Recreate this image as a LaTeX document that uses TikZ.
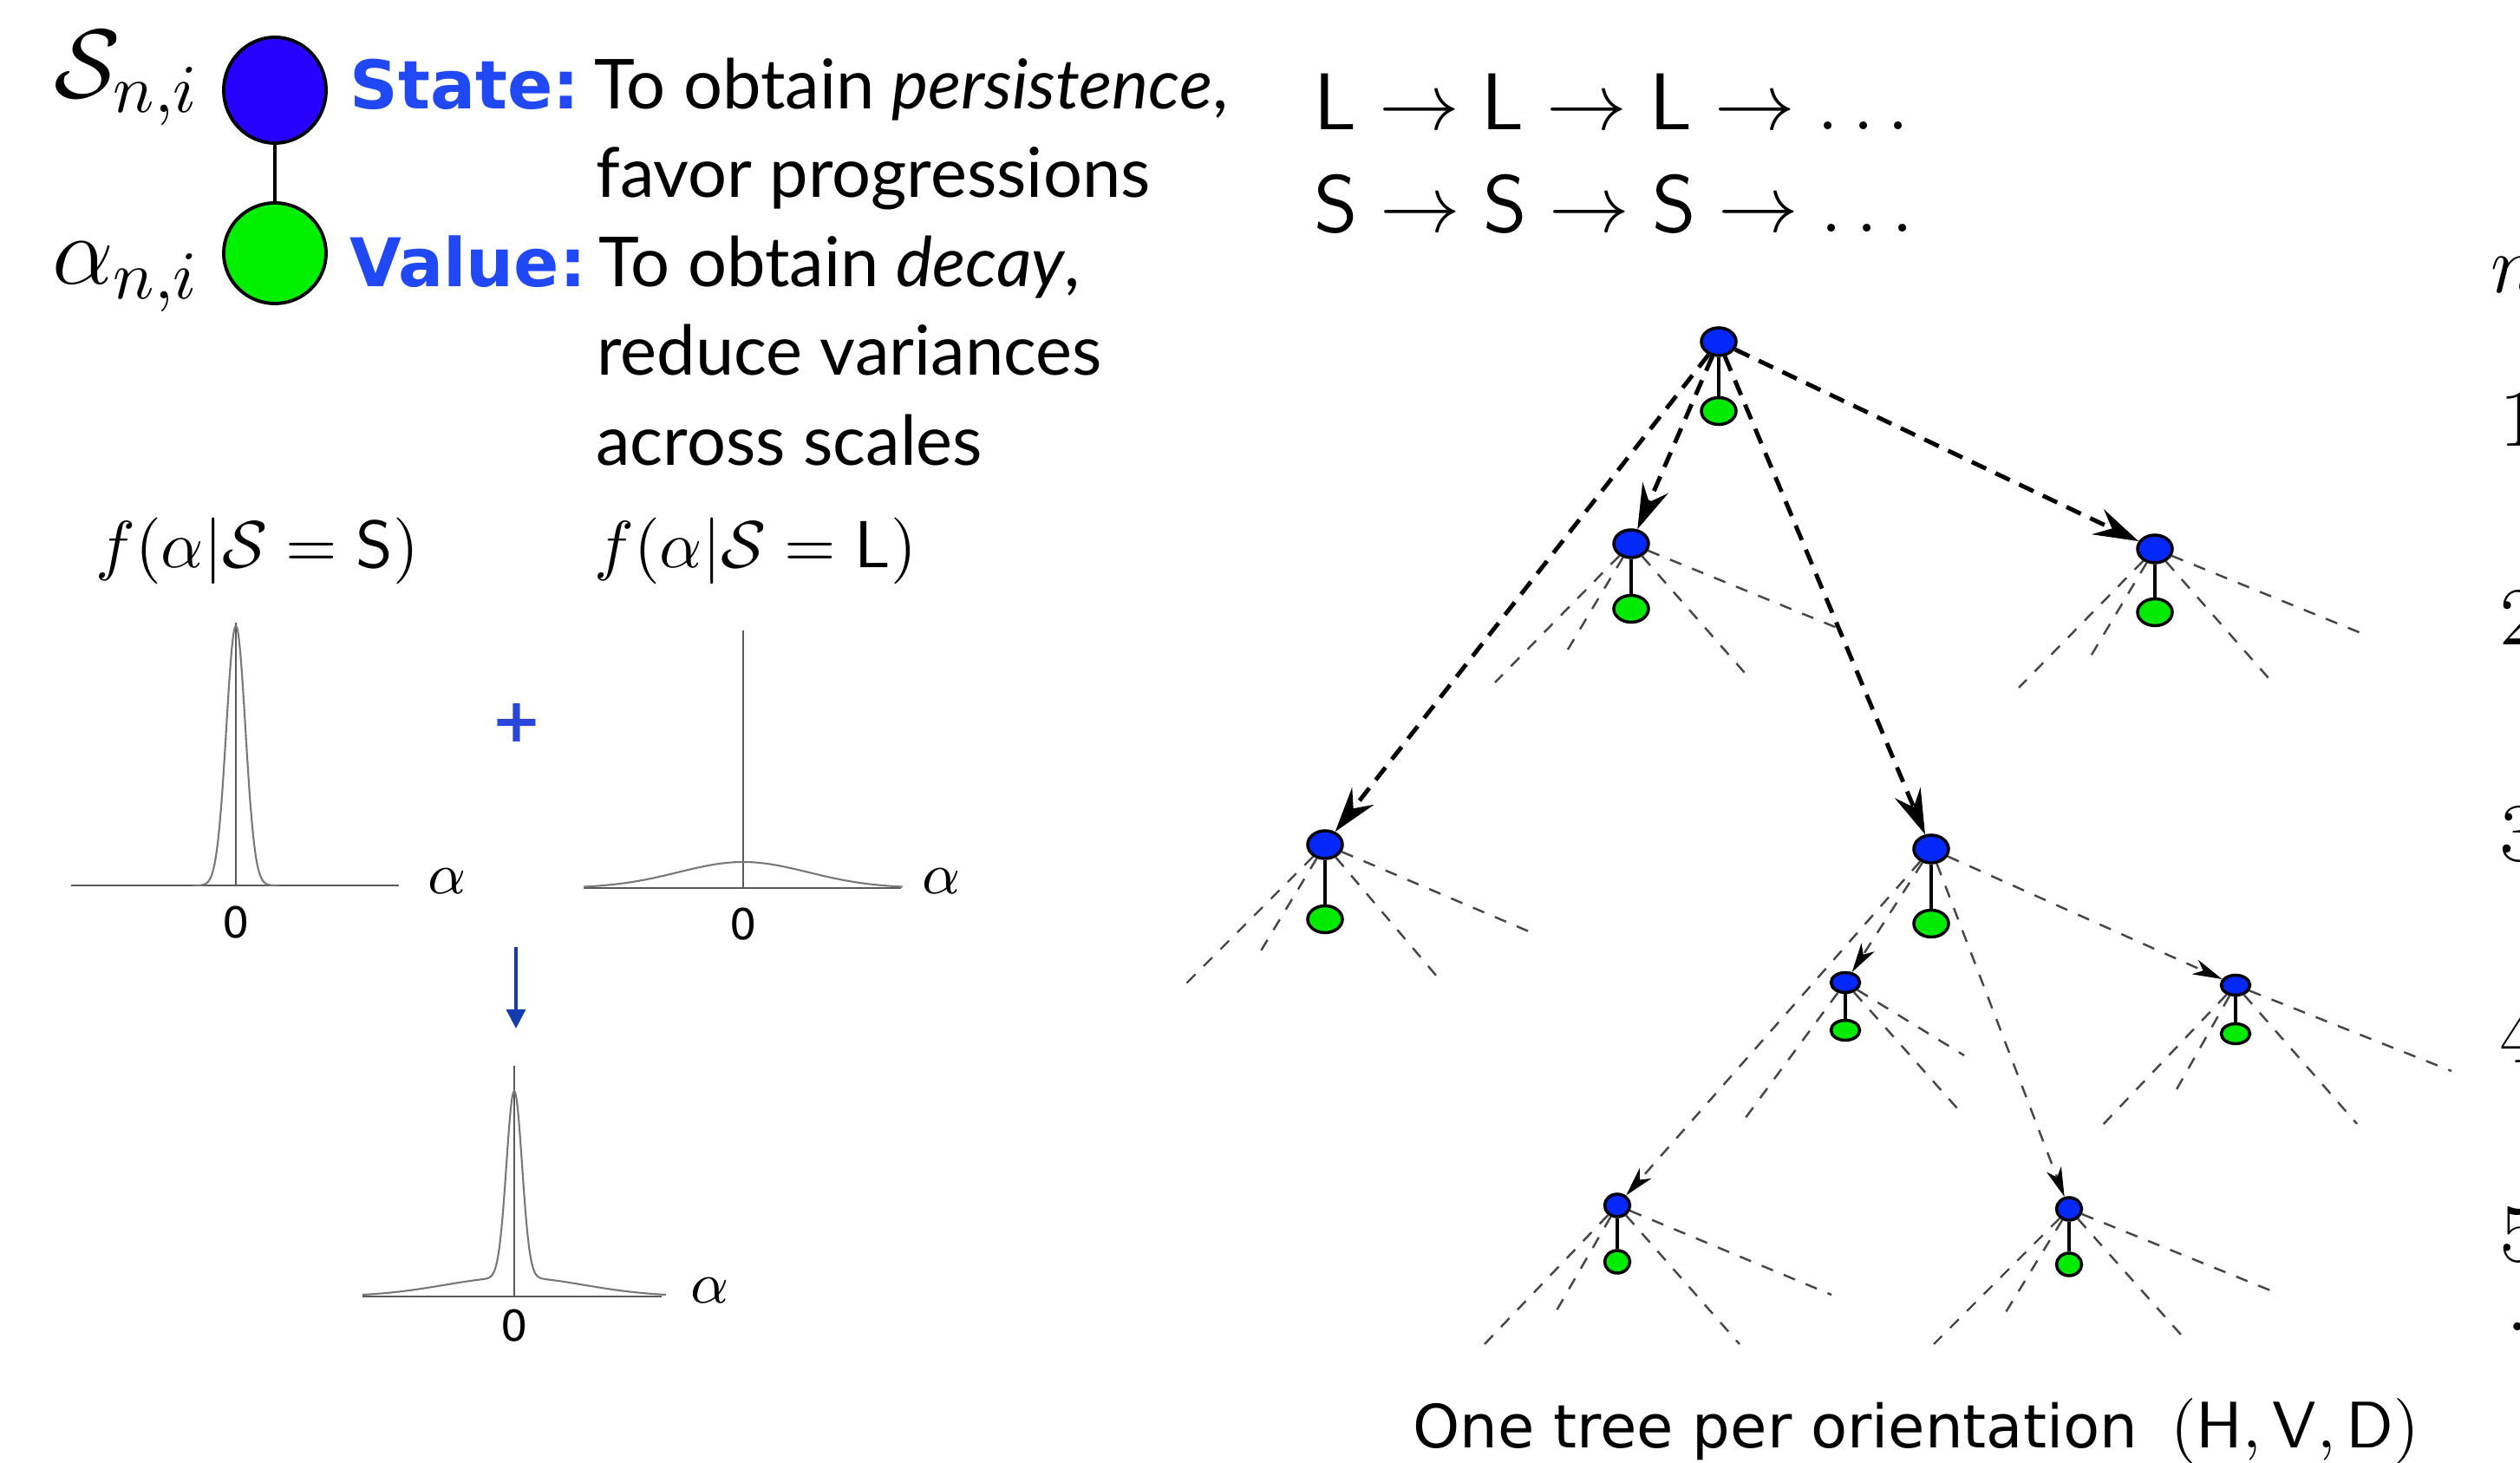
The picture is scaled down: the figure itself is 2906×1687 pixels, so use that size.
\documentclass[tikz,border=0pt]{standalone}
\usepackage{fix-cm}
\usepackage{amsmath}
\usepackage[no-math]{fontspec}
\usepackage{xcolor}
\usetikzlibrary{positioning,arrows.meta,shapes.geometric}

\newfontfamily\gillfont{Lato}
\newfontfamily\headfont{DejaVu Sans}
\newfontfamily\helvfont{Liberation Sans}

\definecolor{legblue}{RGB}{40,0,255}
\definecolor{leggreen}{RGB}{0,240,0}
\definecolor{nodeblue}{RGB}{5,40,250}
\definecolor{nodegreen}{RGB}{0,235,0}
\definecolor{headblue}{RGB}{32,72,245}
\definecolor{plusblue}{RGB}{40,70,220}
\definecolor{arrowblue}{RGB}{20,60,175}
\definecolor{stubgray}{RGB}{70,70,70}
\definecolor{axisgray}{RGB}{90,90,90}
\definecolor{curvegray}{RGB}{120,120,120}

\begin{document}
\begin{tikzpicture}[
    x=0.05mm, y=-0.05mm,
    every node/.style={inner sep=0pt},
    legnode/.style={ellipse,draw,line width=0.55pt,minimum width=5.9mm},
    stnode/.style={ellipse,draw,line width=0.5pt,fill=nodeblue,minimum width=2mm,minimum height=1.6mm},
    vanode/.style={ellipse,draw,line width=0.5pt,fill=nodegreen,minimum width=2mm,minimum height=1.55mm},
    lvfour/.style={minimum width=1.65mm,minimum height=1.15mm},
    lvfive/.style={minimum width=1.45mm,minimum height=1.3mm},
    link/.style={line width=0.7pt},
    bigarrow/.style={line width=0.7pt,dash pattern=on 2.6pt off 1.7pt,-{Stealth[length=2.6mm,width=1.6mm,inset=0.9mm]}},
    stub/.style={line width=0.35pt,draw=stubgray,dash pattern=on 2pt off 1.9pt},
    thinarrow/.style={stub,-{Stealth[length=1.7mm,width=0.9mm,inset=0.5mm,color=black]}},
    prose/.style={font=\gillfont\fontsize{11.3}{14}\selectfont,anchor=base west},
    head/.style={font=\headfont\bfseries\fontsize{11}{13}\selectfont,text=headblue,anchor=base west},
    mathlbl/.style={anchor=base west,font=\fontsize{10.9}{13}\selectfont},
    seq/.style={anchor=base west,font=\fontsize{13.2}{16}\selectfont},
    zero/.style={font=\headfont\fontsize{7}{8}\selectfont},
    alab/.style={font=\fontsize{9.5}{11}\selectfont},
    levellbl/.style={anchor=west,font=\fontsize{13.5}{16}\selectfont},
    axis/.style={draw=axisgray,line width=0.3pt},
    curve/.style={draw=curvegray,line width=0.3pt}
  ]
  \useasboundingbox (0,0) rectangle (2906,1687);
  \clip (0,0) rectangle (2906,1687);

  \node[legnode,fill=legblue,minimum height=6.1mm]  (legst) at (317,104) {};
  \node[legnode,fill=leggreen,minimum height=5.8mm] (legva) at (317,292) {};
  \draw[line width=0.55pt] (legst) -- (legva);
  \node[anchor=base east,font=\fontsize{16}{19}\selectfont] (legS) at (232,113) {$\mathcal{S}_{n,i}$};
  \node[anchor=base east,font=\fontsize{16}{19}\selectfont] (legA) at (232,328) {$\alpha_{n,i}$};

  \node[head]  (statehd) at (402,126) {State:};
  \node[prose] (stl1)    at (684,126) {To obtain \textit{persistence},};
  \node[prose] (stl2)    at (686,228) {favor progressions};
  \node[head]  (valuehd) at (402,331) {Value:};
  \node[prose] (val1)    at (689,331) {To obtain \textit{decay},};
  \node[prose] (val2)    at (687,433) {reduce variances};
  \node[prose] (val3)    at (686,537) {across scales};

  \node[seq] (seqL) at (1514,150) {$\mathsf{L}\to\mathsf{L}\to\mathsf{L}\to\ldots$};
  \node[seq] (seqS) at (1514,268) {$\mathsf{S}\to\mathsf{S}\to\mathsf{S}\to\ldots$};

  \node[mathlbl] (fS) at (109,655) {$f(\alpha|\mathcal{S}=\mathsf{S})$};
  \node[mathlbl] (fL) at (684,655) {$f(\alpha|\mathcal{S}=\mathsf{L})$};

  \coordinate (sAxL) at (82,1021);  \coordinate (sAxR) at (460,1021);
  \coordinate (sTop) at (272,718);  \coordinate (sMid) at (272,1021);
  \draw[axis] (sAxL) -- (sAxR);
  \draw[axis] (sMid) -- (sTop);
  \draw[curve] plot[domain=-4.5:4.5,samples=121,smooth] ({272+11*\x},{1021-299*exp(-\x*\x/2)});
  \node[zero] (sZero) at (272,1064) {0};
  \node[alab] (sAlpha) at (516,1016) {$\alpha$};

  \coordinate (lAxL) at (673,1024); \coordinate (lAxR) at (1039,1024);
  \coordinate (lTop) at (857,727);  \coordinate (lMid) at (857,1024);
  \draw[axis] (lAxL) -- (lAxR);
  \draw[axis] (lMid) -- (lTop);
  \draw[curve] plot[domain=-2.45:2.45,samples=61,smooth] ({857+75*\x},{1024-30*exp(-\x*\x/2)});
  \node[zero] (lZero) at (857,1066) {0};
  \node[alab] (lAlpha) at (1086,1016) {$\alpha$};

  \node[font=\headfont\bfseries\fontsize{10}{12}\selectfont,text=plusblue] (plus) at (596,833) {+};
  \coordinate (mixA) at (595,1092); \coordinate (mixB) at (595,1186);
  \draw[arrowblue,line width=0.5pt,-{Triangle[length=1.1mm,width=1.1mm]}] (mixA) -- (mixB);

  \coordinate (mAxL) at (418,1495); \coordinate (mAxR) at (763,1495);
  \coordinate (mTop) at (593,1229); \coordinate (mMid) at (593,1495);
  \draw[axis] (mAxL) -- (mAxR);
  \draw[axis] (mMid) -- (mTop);
  \draw[curve] plot[domain=-175:175,samples=351] ({593+\x},{1495-215*exp(max(-(\x/9)*(\x/9)/2,-15))-22*exp(-(\x/80)*(\x/80)/2)});
  \node[zero] (mZero) at (593,1529) {0};
  \node[alab] (mAlpha) at (819,1488) {$\alpha$};

  \node[stnode]        (st1)  at (1982,394)  {};
  \node[vanode]        (va1)  at (1982,474)  {};
  \node[stnode]        (st2l) at (1881,627)  {};
  \node[vanode]        (va2l) at (1881,702)  {};
  \node[stnode]        (st2r) at (2485,633)  {};
  \node[vanode]        (va2r) at (2485,706)  {};
  \node[stnode]        (st3l) at (1528,974)  {};
  \node[vanode]        (va3l) at (1528,1060) {};
  \node[stnode]        (st3r) at (2227,979)  {};
  \node[vanode]        (va3r) at (2227,1065) {};
  \node[stnode,lvfour] (st4l) at (2128,1133) {};
  \node[vanode,lvfour] (va4l) at (2128,1188) {};
  \node[stnode,lvfour] (st4r) at (2578,1136) {};
  \node[vanode,lvfour] (va4r) at (2578,1192) {};
  \node[stnode,lvfive] (st5l) at (1865,1390) {};
  \node[vanode,lvfive] (va5l) at (1865,1455) {};
  \node[stnode,lvfive] (st5r) at (2386,1394) {};
  \node[vanode,lvfive] (va5r) at (2386,1458) {};

  \draw[link] (st1) -- (va1);
  \draw[link] (st2l) -- (va2l);
  \draw[link] (st2r) -- (va2r);
  \draw[link] (st3l) -- (va3l);
  \draw[link] (st3r) -- (va3r);
  \draw[link] (st4l) -- (va4l);
  \draw[link] (st4r) -- (va4r);
  \draw[link] (st5l) -- (va5l);
  \draw[link] (st5r) -- (va5r);

  \draw[bigarrow] (st1) -- (st2l);
  \draw[bigarrow] (st1) -- (st2r);
  \draw[bigarrow] (st1) -- (st3l);
  \draw[bigarrow] (st1) -- (st3r);
  \draw[thinarrow] (st3r) -- (st4l);
  \draw[thinarrow] (st3r) -- (st4r);
  \draw[thinarrow] (st3r) -- (st5l);
  \draw[thinarrow] (st3r) -- (st5r);

  \path (st2l) ++(-157,160) coordinate (st2l-a) (st2l) ++(-76,127) coordinate (st2l-b)
        (st2l) ++(139,158) coordinate (st2l-c) (st2l) ++(245,100) coordinate (st2l-d);
  \draw[stub] (st2l) -- (st2l-a) (st2l) -- (st2l-b) (st2l) -- (st2l-c) (st2l) -- (st2l-d);
  \path (st2r) ++(-157,160) coordinate (st2r-a) (st2r) ++(-76,127) coordinate (st2r-b)
        (st2r) ++(139,158) coordinate (st2r-c) (st2r) ++(245,100) coordinate (st2r-d);
  \draw[stub] (st2r) -- (st2r-a) (st2r) -- (st2r-b) (st2r) -- (st2r-c) (st2r) -- (st2r-d);
  \path (st3l) ++(-160,160) coordinate (st3l-a) (st3l) ++(-78,129) coordinate (st3l-b)
        (st3l) ++(135,159) coordinate (st3l-c) (st3l) ++(242,103) coordinate (st3l-d);
  \draw[stub] (st3l) -- (st3l-a) (st3l) -- (st3l-b) (st3l) -- (st3l-c) (st3l) -- (st3l-d);
  \path (st4l) ++(-121,164) coordinate (st4l-b)
        (st4l) ++(137,154) coordinate (st4l-c) (st4l) ++(137,84) coordinate (st4l-d);
  \draw[stub] (st4l) -- (st4l-b) (st4l) -- (st4l-c) (st4l) -- (st4l-d);
  \path (st4r) ++(-153,161) coordinate (st4r-a) (st4r) ++(-73,129) coordinate (st4r-b)
        (st4r) ++(140,160) coordinate (st4r-c) (st4r) ++(249,99) coordinate (st4r-d);
  \draw[stub] (st4r) -- (st4r-a) (st4r) -- (st4r-b) (st4r) -- (st4r-c) (st4r) -- (st4r-d);
  \path (st5l) ++(-155,162) coordinate (st5l-a) (st5l) ++(-74,128) coordinate (st5l-b)
        (st5l) ++(141,160) coordinate (st5l-c) (st5l) ++(247,103) coordinate (st5l-d);
  \draw[stub] (st5l) -- (st5l-a) (st5l) -- (st5l-b) (st5l) -- (st5l-c) (st5l) -- (st5l-d);
  \path (st5r) ++(-156,156) coordinate (st5r-a) (st5r) ++(-76,124) coordinate (st5r-b)
        (st5r) ++(137,154) coordinate (st5r-c) (st5r) ++(242,98) coordinate (st5r-d);
  \draw[stub] (st5r) -- (st5r-a) (st5r) -- (st5r-b) (st5r) -- (st5r-c) (st5r) -- (st5r-d);

  \node[anchor=base west,font=\fontsize{13.5}{16}\selectfont] (ncol) at (2871,338) {$n$};
  \node[levellbl] (n1) at (2881,484)  {$1$};
  \node[levellbl] (n2) at (2881,713)  {$2$};
  \node[levellbl] (n3) at (2881,962)  {$3$};
  \node[levellbl] (n4) at (2881,1195) {$4$};
  \node[levellbl] (n5) at (2881,1424) {$5$};
  \node[levellbl] (n6) at (2889,1530) {.};

  \node[anchor=base west,font=\headfont\fontsize{9.8}{12}\selectfont] (caption) at (1628,1670) {One tree per orientation};
  \node[anchor=base west,font=\fontsize{10.8}{13}\selectfont] (orient) at (2502,1670) {$(\mathsf{H},\mathsf{V},\mathsf{D})$};
\end{tikzpicture}
\end{document}
